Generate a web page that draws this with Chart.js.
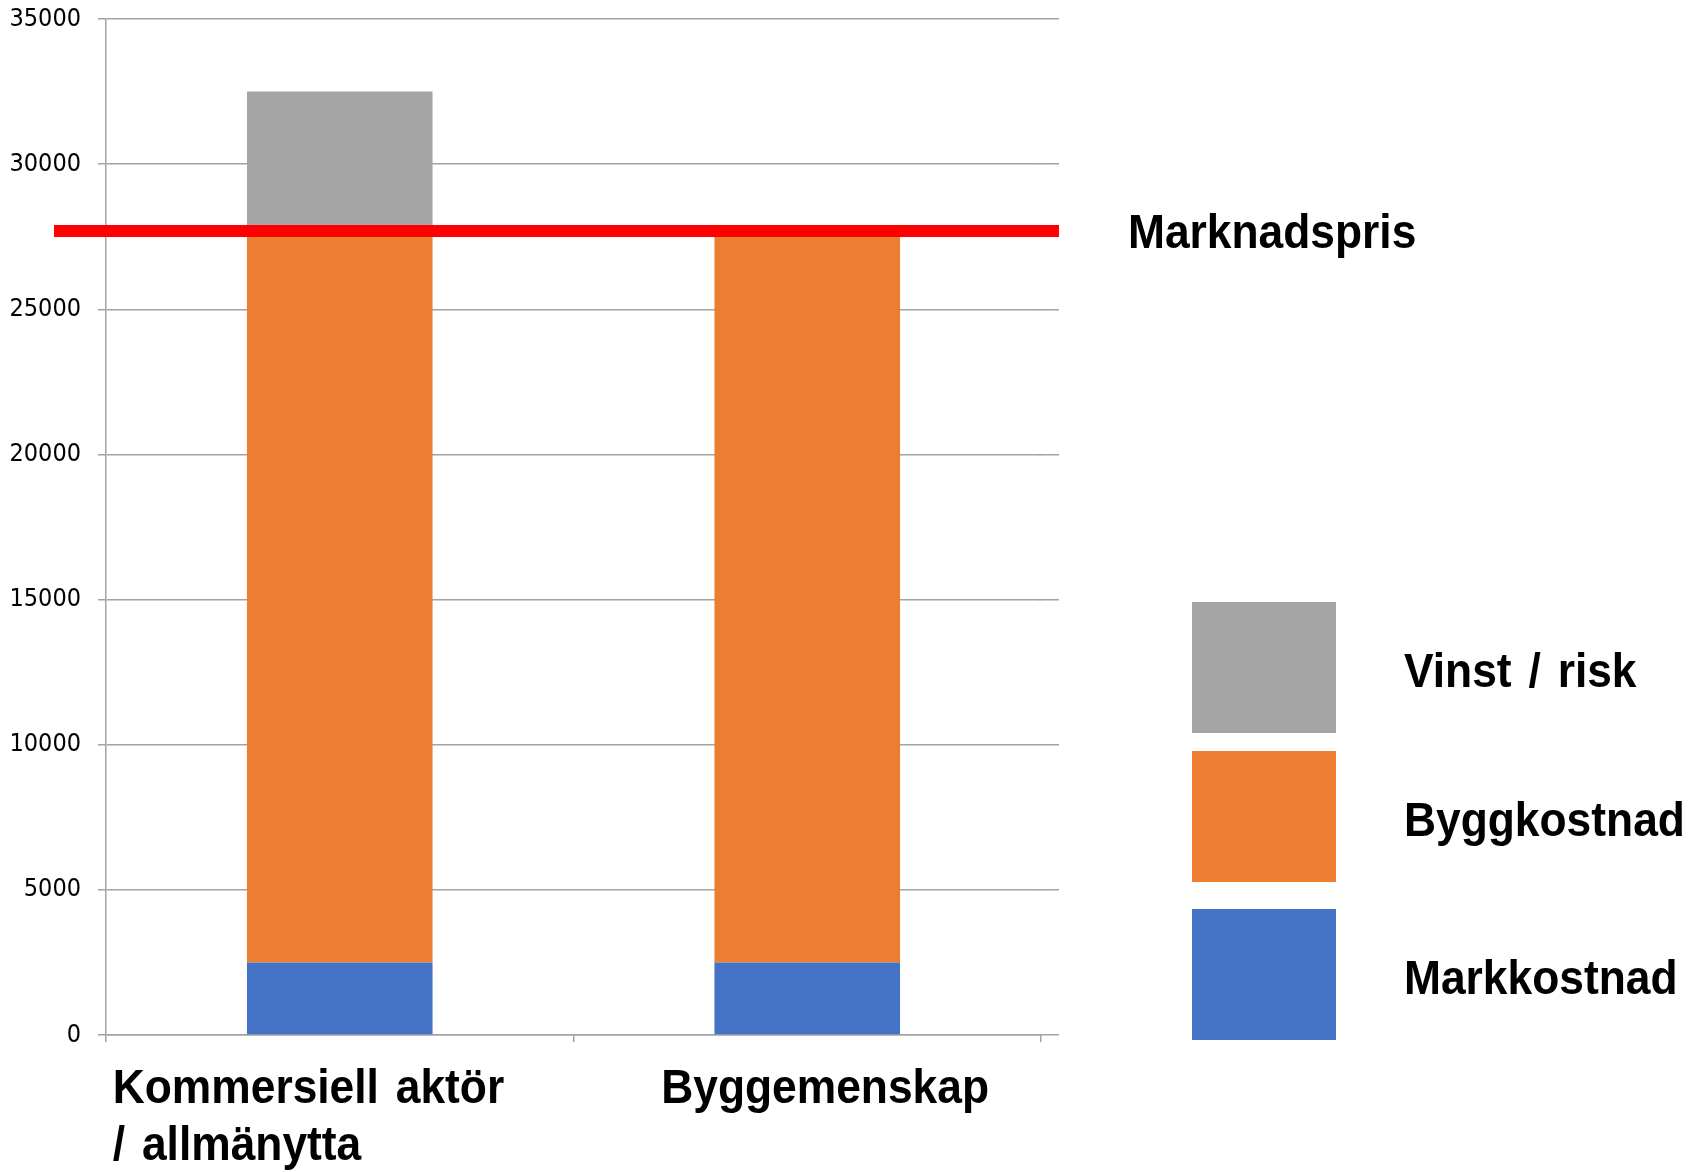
<!DOCTYPE html>
<html>
<head>
<meta charset="utf-8">
<title>Marknadspris</title>
<script src="https://cdn.jsdelivr.net/npm/chart.js@4.4.1/dist/chart.umd.min.js"></script>
<style>
  html, body { margin: 0; padding: 0; background: #fff; }
  #wrap { width: 1691px; height: 1172px; }
</style>
</head>
<body>
<div id="wrap"><canvas id="chart" width="1691" height="1172"></canvas></div>
<script>
// DATA
const categories = [['Kommersiell aktör', '/ allmänytta'], ['Byggemenskap']];
const seriesNames = ['Markkostnad', 'Byggkostnad', 'Vinst / risk'];
const markkostnad = [2500, 2500];
const byggkostnad = [25000, 25000];
const vinstRisk = [5000, 0];
const marketPrice = 27700;
const marketLabel = 'Marknadspris';
const yTicks = [0, 5000, 10000, 15000, 20000, 25000, 30000, 35000];

// STIL
const colors = ['#4472C4', '#ED7D31', '#A5A5A5'];
const gridColor = '#a3a3a3';
const boldFont = 'bold 49px "Liberation Sans", Arial, sans-serif';
const squeeze = 0.905;

function drawLabel(ctx, text, x, y) {
    ctx.save();
    ctx.font = boldFont;
    ctx.fillStyle = '#000';
    ctx.textAlign = 'left';
    ctx.textBaseline = 'alphabetic';
    ctx.wordSpacing = '5px';
    ctx.translate(x, y);
    ctx.scale(squeeze, 1);
    ctx.fillText(text, 0, 0);
    ctx.restore();
}

// mesmo alinhamento de pixel que o Chart.js usa nas linhas de grade
const align = (p, w) => Math.round(p - w / 2) + w / 2;

// linha vermelha do preço de mercado + extensão das linhas de grade
const extrasPlugin = {
    id: 'extras',
    afterDraw(chart) {
        const ctx = chart.ctx;
        const y = chart.scales.y;
        const x = chart.scales.x;
        const area = chart.chartArea;

        ctx.save();
        ctx.strokeStyle = gridColor;
        ctx.lineWidth = 1.5;
        y.ticks.forEach(t => {
            const py = align(y.getPixelForValue(t.value), 1.5);
            ctx.beginPath();
            ctx.moveTo(area.right - 2, py);
            ctx.lineTo(area.right + 18, py);
            ctx.stroke();
        });

        const py = y.getPixelForValue(marketPrice);
        ctx.strokeStyle = '#FF0000';
        ctx.lineWidth = 12;
        ctx.beginPath();
        ctx.moveTo(54, py);
        ctx.lineTo(area.right + 18, py);
        ctx.stroke();
        ctx.restore();

        drawLabel(ctx, marketLabel, 1128, py + 17);

        // etiquetas das categorias
        const offsets = [-227, -146];
        categories.forEach((lines, i) => {
            const cx = x.getPixelForValue(i) + offsets[i];
            lines.forEach((line, j) => {
                drawLabel(ctx, line, cx, 1103 + j * 57);
            });
        });

        // legenda (ordem invertida, cinza em cima)
        const boxTops = [909, 751, 602];
        chart.data.datasets.forEach((ds, i) => {
            ctx.fillStyle = ds.backgroundColor;
            ctx.fillRect(1192, boxTops[i], 144, 131);
            drawLabel(ctx, ds.label, 1404, boxTops[i] + 65 + 20);
        });
    }
};

const ctx = document.getElementById('chart').getContext('2d');
new Chart(ctx, {
    type: 'bar',
    data: {
        labels: categories,
        datasets: [
            { label: seriesNames[0], data: markkostnad, backgroundColor: colors[0] },
            { label: seriesNames[1], data: byggkostnad, backgroundColor: colors[1] },
            { label: seriesNames[2], data: vinstRisk, backgroundColor: colors[2] }
        ]
    },
    options: {
        responsive: false,
        animation: false,
        devicePixelRatio: 1,
        layout: { padding: { top: 19, right: 650, left: 0, bottom: 0 } },
        datasets: { bar: { categoryPercentage: 1, barPercentage: 0.397, borderWidth: 0 } },
        plugins: { legend: { display: false }, tooltip: { enabled: false } },
        scales: {
            x: {
                stacked: true,
                grid: { offset: true, drawOnChartArea: false, drawTicks: true, tickLength: 7, color: gridColor, lineWidth: 1.5 },
                border: { color: gridColor, width: 1.5 },
                ticks: { display: false },
                afterFit: s => { s.height = 137; }
            },
            y: {
                stacked: true,
                min: 0,
                max: 35000,
                afterBuildTicks: s => { s.ticks = yTicks.map(v => ({ value: v })); },
                ticks: {
                    padding: 17,
                    color: '#000',
                    font: { family: '"DejaVu Sans Condensed", "DejaVu Sans", sans-serif', size: 25 },
                    callback: v => String(v)
                },
                grid: { color: gridColor, lineWidth: 1.5, tickLength: 8 },
                border: { color: gridColor, width: 1.5 },
                afterFit: s => { s.width = 106; s.paddingTop = 0; s.paddingBottom = 0; }
            }
        }
    },
    plugins: [extrasPlugin]
});
</script>
</body>
</html>
